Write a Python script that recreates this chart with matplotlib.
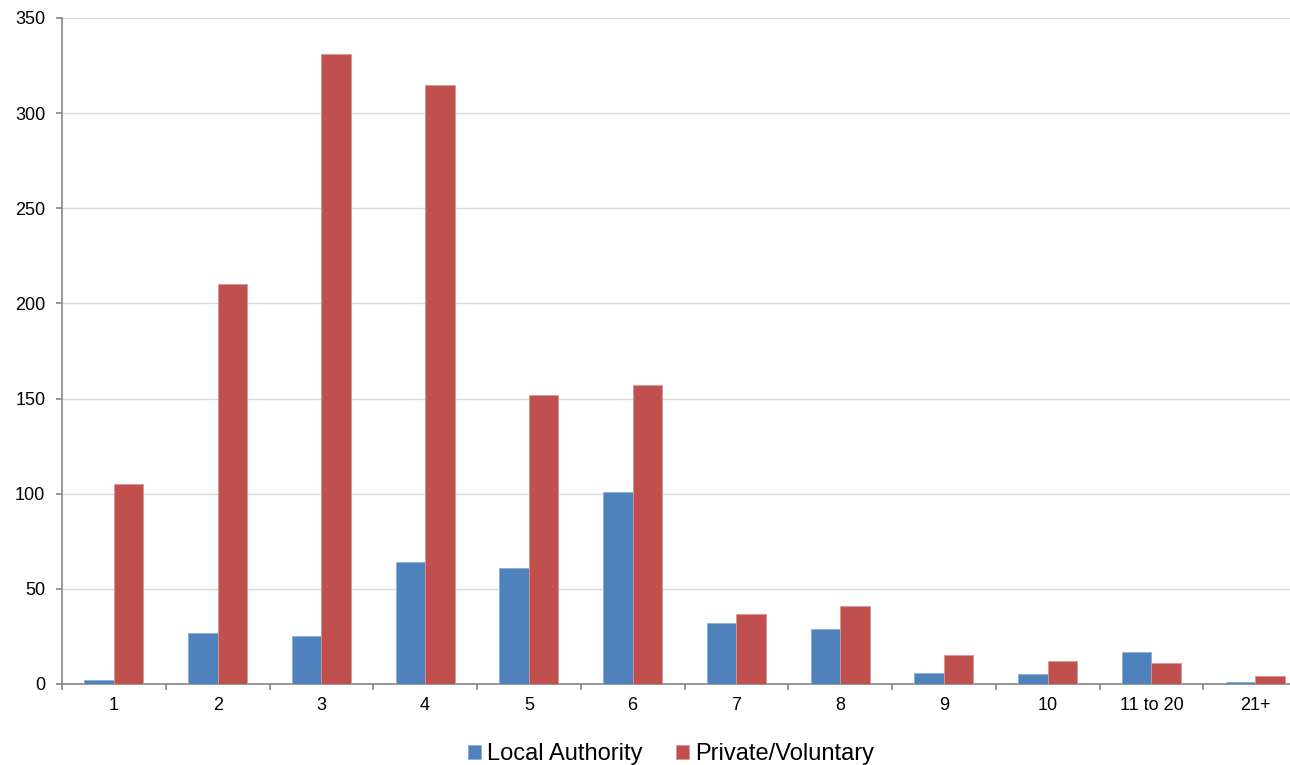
import matplotlib
matplotlib.use("Agg")
import matplotlib.pyplot as plt
import numpy as np

plt.rcParams['font.family'] = ['Liberation Sans', 'DejaVu Sans']

categories = ["1", "2", "3", "4", "5", "6", "7", "8", "9", "10", "11 to 20", "21+"]
local_authority = [2, 27, 25, 64, 61, 101, 32, 29, 6, 5, 17, 1]
private_voluntary = [105, 210, 331, 315, 152, 157, 37, 41, 15, 12, 11, 4]

W, H = 1290, 765
fig = plt.figure(figsize=(W / 100, H / 100), dpi=100)
left_px, right_px, top_px, bottom_px = 62, 1307, 18, 684
ax = fig.add_axes([left_px / W, (H - bottom_px) / H,
                   (right_px - left_px) / W, (bottom_px - top_px) / H])

x = np.arange(len(categories))
w = 0.284
ax.bar(x - w / 2, local_authority, w, color="#4F81BD", edgecolor="#8EADD6", linewidth=0.6,
       label="Local Authority", zorder=3)
ax.bar(x + w / 2, private_voluntary, w, color="#C0504D", edgecolor="#DA9492", linewidth=0.6,
       label="Private/Voluntary", zorder=3)

ax.set_xlim(-0.5, len(categories) - 0.5)
ax.set_ylim(0, 350)
ax.set_yticks(np.arange(0, 351, 50))
ax.yaxis.grid(True, color="#D9D9D9", linewidth=1, zorder=0)
ax.set_axisbelow(True)

ax.set_xticks(x)
ax.set_xticklabels(categories, fontsize=13)
ax.set_xticks(np.arange(-0.5, len(categories), 1), minor=True)
ax.tick_params(axis='x', which='major', length=0, pad=9)
ax.tick_params(axis='x', which='minor', length=4, color="#868686", width=1.2)
ax.tick_params(axis='y', labelsize=13, length=4, color="#868686", width=1.2, pad=8)

for s in ["top", "right"]:
    ax.spines[s].set_visible(False)
for s in ["left", "bottom"]:
    ax.spines[s].set_color("#868686")
    ax.spines[s].set_linewidth(1.2)

fig.legend(loc="center", bbox_to_anchor=(671 / W, (H - 754) / H), ncol=2,
           frameon=False, fontsize=17, handlelength=0.55, handleheight=0.55,
           handletextpad=0.25, columnspacing=1.45)

fig.savefig("out.png", dpi=100)
